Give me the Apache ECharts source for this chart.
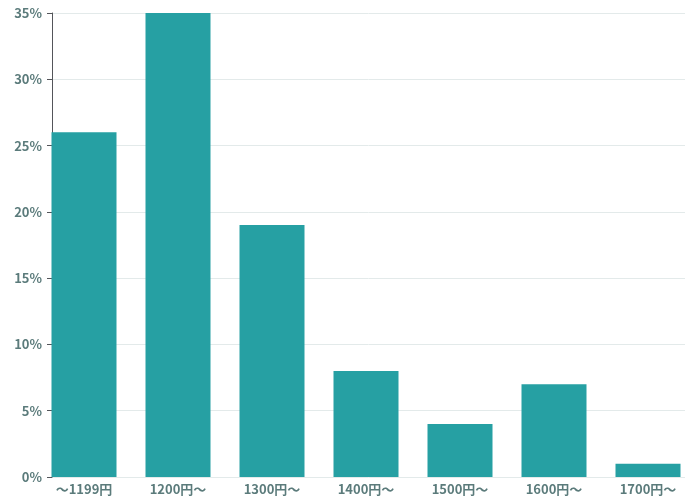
<!DOCTYPE html>
<html>
<head>
<meta charset="utf-8">
<script src="https://cdn.jsdelivr.net/npm/echarts@6/dist/echarts.min.js"></script>
</head>
<body style="margin:0">
<div id="chart" style="width:695px;height:500px;"></div>
<script type="text/javascript">
var categories = ['～1199円', '1200円～', '1300円～', '1400円～', '1500円～', '1600円～', '1700円～'];
var shares = [26, 35, 19, 8, 4, 7, 1];

var labelFont = { color: '#5b7b7b', fontSize: 13, fontWeight: 'bold', fontFamily: 'Noto Sans CJK JP' };
var chart = echarts.init(document.getElementById('chart'));
chart.setOption({
	animation: false,
	grid: [
		{ left: 52, right: 10, top: 13, bottom: 23 },
		{ left: 37, right: -4, top: 13, bottom: 23 }
	],
	xAxis: [{
		gridIndex: 0, type: 'value', min: 0, max: 1, show: false
	}, {
		gridIndex: 1,
		type: 'category',
		data: categories,
		axisTick: { show: false },
		axisLine: { show: false },
		axisLabel: Object.assign({ margin: 6, interval: 0 }, labelFont)
	}],
	yAxis: [{
		gridIndex: 0,
		type: 'value',
		min: 0, max: 35, interval: 5,
		axisLabel: Object.assign({ formatter: '{value}%', margin: 10 }, labelFont),
		splitLine: { lineStyle: { color: '#e3eaea' } }
	}, {
		gridIndex: 1, type: 'value', min: 0, max: 35, show: false
	}],
	series: [{
		type: 'bar',
		xAxisIndex: 1, yAxisIndex: 1,
		data: shares,
		barWidth: 65,
		itemStyle: { color: '#26a0a3' }
	}]
});
</script>
</body>
</html>
